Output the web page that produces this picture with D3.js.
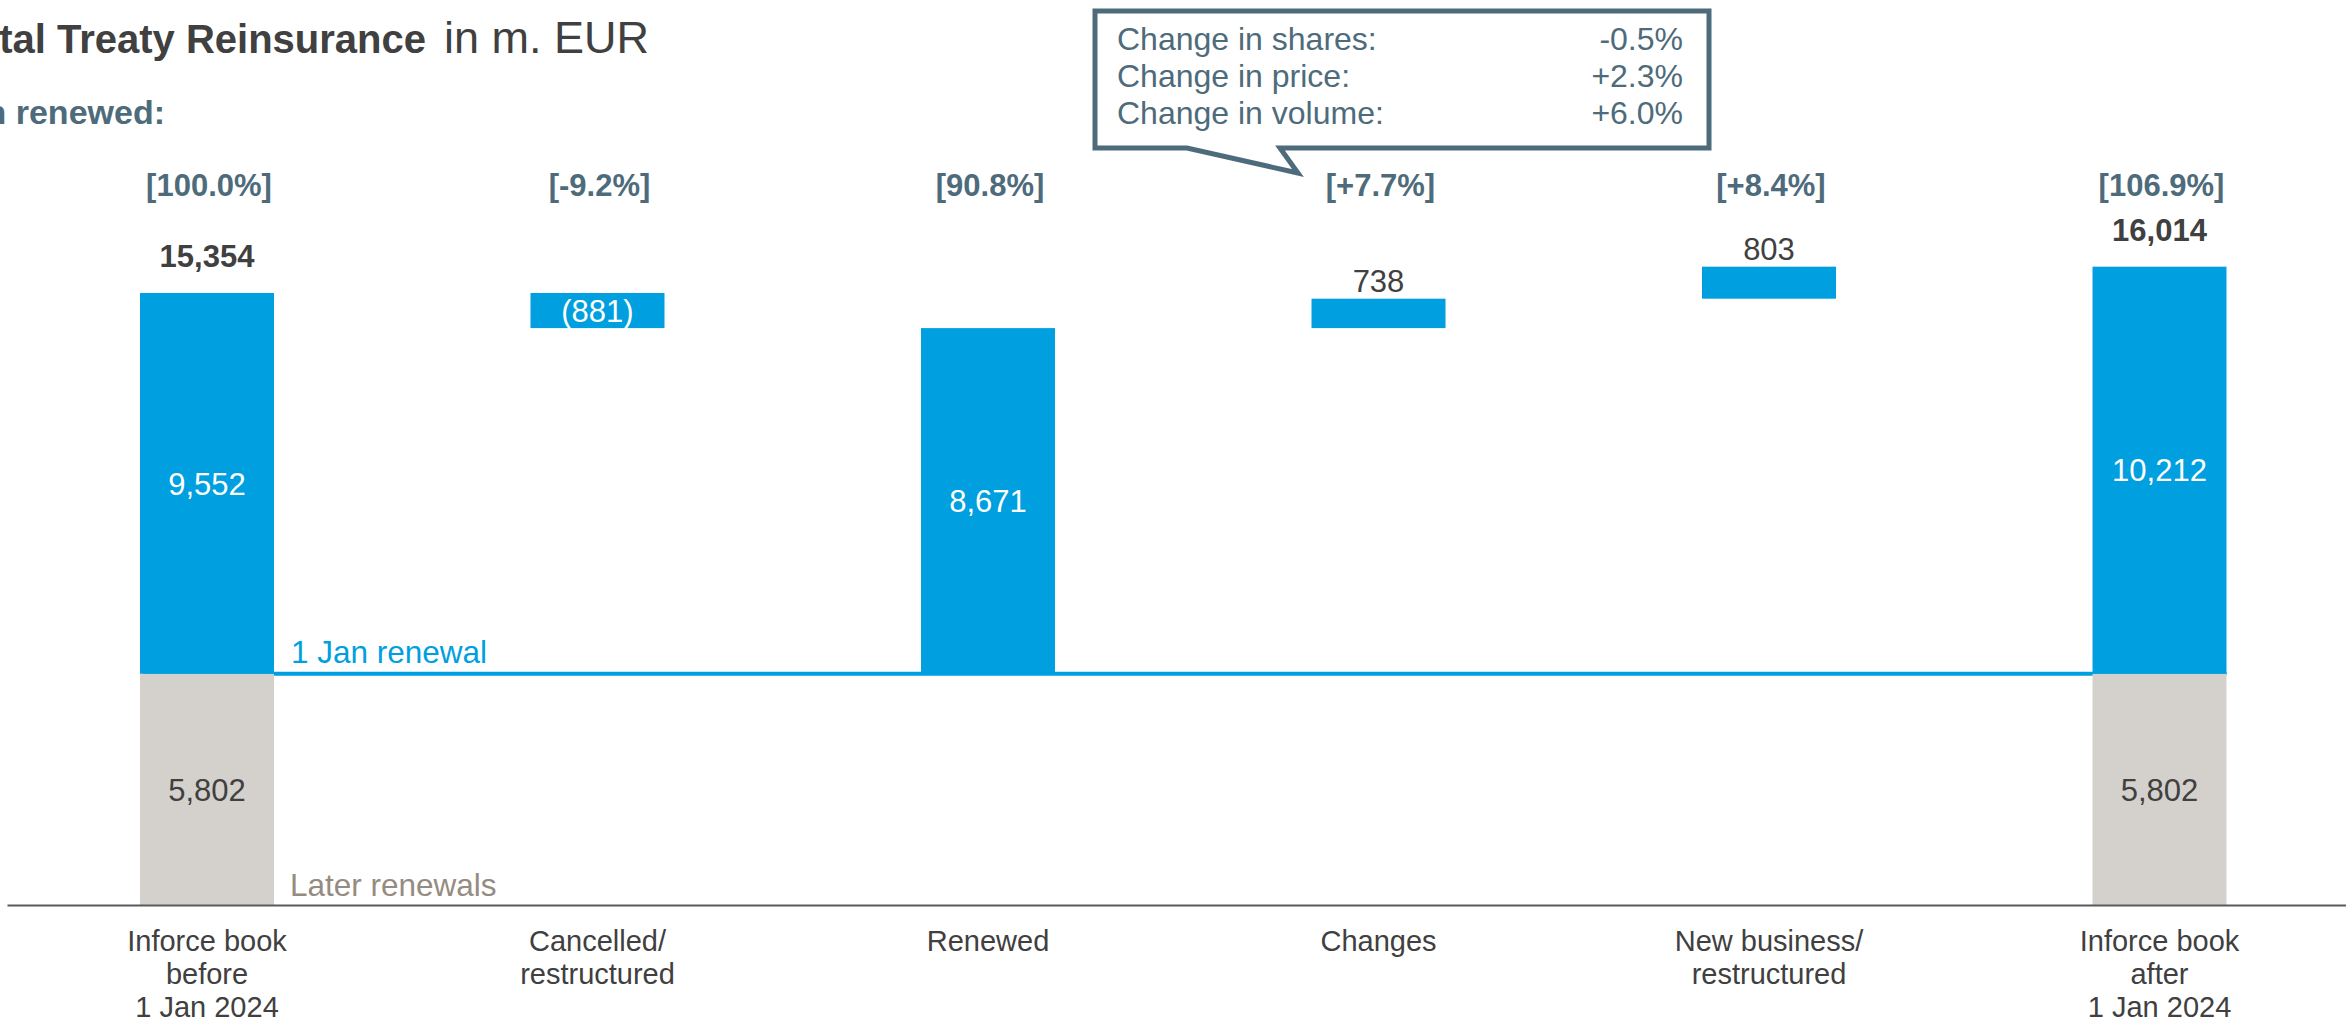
<!DOCTYPE html>
<html>
<head>
<meta charset="utf-8">
<script src="https://cdn.jsdelivr.net/npm/d3@7/dist/d3.min.js"></script>
<style>
  html, body { margin: 0; padding: 0; background: #ffffff; }
  svg { display: block; font-family: "Liberation Sans", Arial, sans-serif; }
</style>
</head>
<body>
<svg id="chart" width="2346" height="1018"></svg>
<script>
// ---------- data ----------
const categories = [
  "Inforce book\nbefore\n1 Jan 2024",
  "Cancelled/\nrestructured",
  "Renewed",
  "Changes",
  "New business/\nrestructured",
  "Inforce book\nafter\n1 Jan 2024"
];
const barTypes = ["total", "delta", "subtotal", "delta", "delta", "total"];
const renewalValues = [9552, -881, 8671, 738, 803, 10212];   // 1 Jan renewal part
const laterValues   = [5802, 0, 0, 0, 0, 5802];               // later renewals part
const totalValues   = [15354, null, null, null, null, 16014];
const shareLabels   = ["[100.0%]", "[-9.2%]", "[90.8%]", "[+7.7%]", "[+8.4%]", "[106.9%]"];
const calloutLabels = ["Change in shares:", "Change in price:", "Change in volume:"];
const calloutValues = ["-0.5%", "+2.3%", "+6.0%"];
const titleBold = "Total Treaty Reinsurance";
const titleRegular = "in m. EUR";
const subtitle = "Portion renewed:";
const lineLabels = ["1 Jan renewal", "Later renewals"];

// ---------- colours ----------
const BLUE = "#009fe0", GREY = "#d4d1cc", SLATE = "#4e6b7b", DARK = "#404040", TAUPE = "#968b80";

// ---------- layout ----------
const svg = d3.select("#chart");

const x = d3.scaleBand()
  .domain(categories)
  .range([7, 2359.5])
  .paddingInner(0.6569)
  .paddingOuter(0.3406);

const y = d3.scaleLinear().domain([0, 20000]).range([905, 107.8]);

// compute waterfall segments
const laterBase = laterValues[0];
let running = 0;
const bars = categories.map((c, i) => {
  const t = barTypes[i];
  let b0, b1;
  if (t === "total") {
    b0 = laterValues[i]; b1 = laterValues[i] + renewalValues[i];
  } else if (t === "subtotal") {
    b0 = laterBase; b1 = laterBase + renewalValues[i];
  } else {
    b0 = running; b1 = running + renewalValues[i];
  }
  running = b1;
  return { cat: c, i, type: t, later: laterValues[i], value: renewalValues[i],
           lo: Math.min(b0, b1), hi: Math.max(b0, b1), total: totalValues[i], share: shareLabels[i] };
});

const fmt = d3.format(",");
const fmtVal = v => v < 0 ? "(" + fmt(-v) + ")" : fmt(v);

// title
svg.append("text")
  .attr("x", 426).attr("y", 53)
  .attr("text-anchor", "end")
  .attr("font-size", 40).attr("font-weight", "bold").attr("fill", DARK)
  .text(titleBold);
svg.append("text")
  .attr("x", 444).attr("y", 53)
  .attr("font-size", 45).attr("fill", DARK)
  .text(titleRegular);
svg.append("text")
  .attr("x", 165).attr("y", 124)
  .attr("text-anchor", "end")
  .attr("font-size", 34).attr("font-weight", "bold").attr("fill", SLATE)
  .text(subtitle);

// 1 Jan renewal line
const lineY = y(laterBase);
svg.append("line")
  .attr("x1", x(categories[0]) + 3).attr("x2", x(categories[5]) + x.bandwidth())
  .attr("y1", lineY).attr("y2", lineY)
  .attr("stroke", BLUE).attr("stroke-width", 4);

// later renewals (grey) segments
svg.selectAll("rect.later")
  .data(bars.filter(d => d.later > 0))
  .join("rect")
  .attr("class", "later")
  .attr("x", d => x(d.cat)).attr("width", x.bandwidth())
  .attr("y", d => y(d.later)).attr("height", d => y(0) - y(d.later))
  .attr("fill", GREY);

// blue segments
svg.selectAll("rect.renew")
  .data(bars)
  .join("rect")
  .attr("class", "renew")
  .attr("x", d => x(d.cat)).attr("width", x.bandwidth())
  .attr("y", d => y(d.hi)).attr("height", d => y(d.lo) - y(d.hi))
  .attr("fill", BLUE);

// axis
const axis = svg.append("g")
  .attr("transform", `translate(0,${y(0)})`)
  .call(d3.axisBottom(x).tickSize(0).tickSizeOuter(0));
axis.select(".domain").attr("stroke", "#5a5a5a").attr("stroke-width", 2);
axis.selectAll(".tick text").each(function(d) {
  const t = d3.select(this);
  t.text(null).attr("y", 0).attr("dy", null)
    .attr("font-size", 29).attr("fill", DARK)
    .attr("font-family", "Liberation Sans, Arial, sans-serif");
  d.split("\n").forEach((line, k) => {
    t.append("tspan").attr("x", 0).attr("y", 46 + k * 33).text(line);
  });
});

// value labels
const cx = d => x(d.cat) + x.bandwidth() / 2;
bars.forEach(d => {
  if (d.type === "total") {
    svg.append("text").attr("x", cx(d)).attr("y", (y(d.hi) + y(d.lo)) / 2)
      .attr("dy", "0.36em").attr("text-anchor", "middle")
      .attr("font-size", 31).attr("fill", "#ffffff").text(fmtVal(d.value));
    svg.append("text").attr("x", cx(d)).attr("y", (y(d.later) + y(0)) / 2)
      .attr("dy", "0.36em").attr("text-anchor", "middle")
      .attr("font-size", 31).attr("fill", DARK).text(fmtVal(d.later));
    svg.append("text").attr("x", cx(d)).attr("y", y(d.total) - 26)
      .attr("text-anchor", "middle").attr("font-size", 31).attr("font-weight", "bold")
      .attr("fill", DARK).text(fmt(d.total));
  } else if (d.type === "subtotal" || d.value < 0) {
    svg.append("text").attr("x", cx(d)).attr("y", (y(d.hi) + y(d.lo)) / 2)
      .attr("dy", "0.36em").attr("text-anchor", "middle")
      .attr("font-size", 31).attr("fill", "#ffffff").text(fmtVal(d.value));
  } else {
    svg.append("text").attr("x", cx(d)).attr("y", y(d.hi) - 7)
      .attr("text-anchor", "middle").attr("font-size", 31)
      .attr("fill", DARK).text(fmtVal(d.value));
  }
  svg.append("text").attr("x", cx(d) + 2).attr("y", 196)
    .attr("text-anchor", "middle").attr("font-size", 31).attr("font-weight", "bold")
    .attr("fill", SLATE).text(d.share);
});

// series labels next to the line
svg.append("text").attr("x", x(categories[0]) + x.bandwidth() + 17).attr("y", lineY - 11)
  .attr("font-size", 31.5).attr("fill", BLUE).text(lineLabels[0]);
svg.append("text").attr("x", x(categories[0]) + x.bandwidth() + 16).attr("y", y(0) - 9)
  .attr("font-size", 31.5).attr("fill", TAUPE).text(lineLabels[1]);

// callout box
const bx0 = 1095, bx1 = 1709, by0 = 11, by1 = 148;
const callout = svg.append("g");
callout.append("path")
  .attr("d", `M${bx0},${by0} H${bx1} V${by1} H1280 L1298,173 L1187,${by1} H${bx0} Z`)
  .attr("fill", "#ffffff").attr("stroke", SLATE).attr("stroke-width", 5)
  .attr("stroke-linejoin", "miter");
calloutLabels.forEach((lab, k) => {
  callout.append("text").attr("x", 1117).attr("y", 50 + k * 37)
    .attr("font-size", 32).attr("fill", SLATE).text(lab);
  callout.append("text").attr("x", 1683).attr("y", 50 + k * 37)
    .attr("text-anchor", "end").attr("font-size", 32).attr("fill", SLATE).text(calloutValues[k]);
});
</script>
</body>
</html>
